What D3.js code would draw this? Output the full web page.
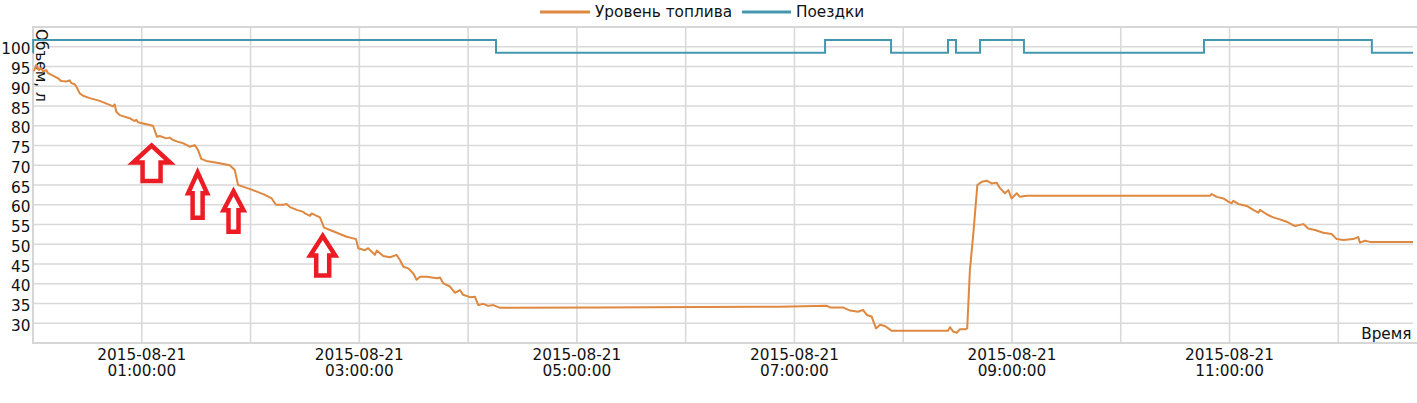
<!DOCTYPE html>
<html><head><meta charset="utf-8">
<script src="https://cdn.jsdelivr.net/npm/d3@7"></script>
<style>
body{margin:0;background:#fff;}
svg text{font-family:"DejaVu Sans",sans-serif;fill:#111;}
</style>
</head><body>
<svg id="c" width="1417" height="403"></svg>
<script>
// ---- data (minutes after 2015-08-21 00:00:00) ----
const fuelMinutes = [0.5,1.8,3.3,4.6,5.5,7.3,8.3,11.0,13.8,15.6,18.4,20.2,21.1,23.0,23.9,25.8,27.6,31.3,36.8,42.3,44.1,45.1,45.9,47.8,53.3,56.1,57.0,57.9,62.5,66.2,67.1,68.4,69.9,73.5,75.4,77.2,80.9,82.7,86.4,89.2,91.0,92.8,95.6,103.0,108.5,111.3,113.1,115.8,121.3,127.0,131.7,134.0,138.1,139.9,141.8,145.5,149.1,150.0,152.8,153.7,156.5,158.3,160.5,163.8,169.3,173.0,178.2,179.4,183.1,184.9,188.6,189.6,193.2,196.9,200.6,202.4,204.3,207.0,209.8,211.6,213.5,217.2,222.7,224.5,226.3,230.0,232.8,235.5,237.3,241.0,243.8,245.6,248.4,251.1,253.9,257.6,312.8,367.9,412.0,437.9,439.6,446.8,450.7,455.1,457.8,459.9,462.6,465.0,467.2,469.9,471.8,473.6,504.7,505.8,507.6,509.5,511.3,514.5,515.3,516.8,518.7,520.9,523.3,526.0,528.8,531.5,533.4,536.1,538.0,539.8,542.6,544.4,548.1,649.2,650.2,652.9,656.6,659.3,661.2,662.1,664.8,669.5,673.1,675.9,676.8,680.5,684.1,687.8,691.5,696.1,700.7,703.4,707.1,711.7,716.3,719.1,722.7,728.2,731.0,731.9,734.7,737.5,761.2];
const fuelLevel = [93.8,95.4,94.1,94.6,93.7,94.1,93.3,92.7,92.0,91.3,91.2,91.5,90.8,90.5,89.9,88.2,87.6,87.0,86.3,85.3,84.9,85.4,83.6,82.7,81.9,81.2,81.5,80.9,80.4,80.0,78.9,77.2,77.4,76.8,77.0,76.4,75.8,75.6,74.7,75.1,73.9,71.6,71.1,70.5,70.0,68.8,65.0,64.6,63.7,62.7,61.6,60.0,60.0,60.2,59.4,58.7,58.2,57.8,57.2,57.8,57.2,56.8,54.2,53.6,52.6,51.9,51.3,49.0,48.5,49.0,47.3,48.4,47.0,46.7,47.3,46.0,44.3,43.9,42.6,41.0,41.8,41.8,41.4,41.6,40.1,39.3,37.7,38.4,37.2,36.6,36.7,34.6,34.9,34.4,34.6,33.9,34.0,34.1,34.2,34.4,34.0,34.0,33.2,32.9,33.4,32.1,31.7,28.7,29.6,29.3,28.7,28.1,28.1,29.0,27.9,27.6,28.5,28.5,28.7,43.5,52.8,65.0,65.8,66.1,65.4,65.6,64.2,62.9,63.7,61.6,62.9,62.0,62.3,62.3,62.7,62.0,61.6,60.8,60.4,61.0,60.2,59.7,58.7,58.0,58.7,57.6,56.8,56.3,55.7,54.6,55.1,54.0,53.6,52.9,52.6,51.3,51.1,51.3,51.8,50.4,50.9,50.6,50.6];
const tripMinutes = [0,0.1,255.4,436.9,473.3,504.7,509.1,522.4,546.6,645.9,738.5,761.2];
const tripLevel   = [98.5,101.7,98.5,101.7,98.5,101.7,98.5,101.7,98.5,101.7,98.5,98.5];
const yTicks = [30,35,40,45,50,55,60,65,70,75,80,85,90,95,100];
const xGridHours = [1,2,3,4,5,6,7,8,9,10,11,12];
const xLabelHours = [1,3,5,7,9,11];
const seriesNames = ["Уровень топлива","Поездки"];
const arrowTipMinutes = [65.4, 90.8, 110.6, 159.8];
const arrowTipLevel   = [75.0, 68.2, 63.4, 52.1];

// ---- styles ----
const colors = ["#de8840","#4497ae"];
const arrowShapes = [ // [headLen, headHalf, shaftHalf, totalLen]
  [17,18.5,9,35.5],[21,9.5,5,45.5],[19,10,5,40.5],[19.5,12.5,6.5,39.5]
];
const M = {left:33,right:1413,top:27,bottom:343};

const base = new Date(2015,7,21,0,0,0);
const toDate = m => new Date(base.getTime()+m*60000);

const svg = d3.select("#c");
const x = d3.scaleTime().domain([base, toDate(761.2)]).range([M.left, M.right]);
const y = d3.scaleLinear().domain([25,105]).range([M.bottom, M.top]);

const grid = svg.append("g");
grid.selectAll("line.h").data(yTicks).enter().append("line")
  .attr("x1",M.left).attr("x2",M.right)
  .attr("y1",d=>y(d)).attr("y2",d=>y(d))
  .attr("stroke","#d9d9d9").attr("stroke-width",1.6);
grid.selectAll("line.v").data(xGridHours).enter().append("line")
  .attr("x1",d=>x(toDate(d*60))).attr("x2",d=>x(toDate(d*60)))
  .attr("y1",M.top).attr("y2",M.bottom)
  .attr("stroke","#d9d9d9").attr("stroke-width",1.6);
svg.append("path")
  .attr("d",`M${M.right+4},${M.top}H${M.left}V${M.bottom}H${M.right+4}`)
  .attr("fill","none").attr("stroke","#d6d6d6").attr("stroke-width",2);

svg.selectAll("text.yl").data(yTicks).enter().append("text")
  .attr("x",30.5).attr("y",d=>y(d)+7.5)
  .attr("text-anchor","end").attr("font-size",15.3).text(d=>d);

const fmtD = d3.timeFormat("%Y-%m-%d"), fmtT = d3.timeFormat("%H:%M:%S");
const xl = svg.selectAll("g.xl").data(xLabelHours).enter().append("g");
xl.append("text").attr("x",d=>x(toDate(d*60))).attr("y",359.5)
  .attr("text-anchor","middle").attr("font-size",15.3).text(d=>fmtD(toDate(d*60)));
xl.append("text").attr("x",d=>x(toDate(d*60))).attr("y",375.5)
  .attr("text-anchor","middle").attr("font-size",15.3).text(d=>fmtT(toDate(d*60)));

svg.append("text").attr("transform","translate(36,29) rotate(90)")
  .attr("font-size",15.3).text("Объем, л");
svg.append("text").attr("x",1411.5).attr("y",339)
  .attr("text-anchor","end").attr("font-size",15.3).text("Время");

const fuel = fuelMinutes.map((m,i)=>[toDate(m), fuelLevel[i]]);
const trips = tripMinutes.map((m,i)=>[toDate(m), tripLevel[i]]);
svg.append("path").datum(trips)
  .attr("d", d3.line().x(d=>x(d[0])).y(d=>y(d[1])).curve(d3.curveStepAfter))
  .attr("fill","none").attr("stroke",colors[1]).attr("stroke-width",2);
svg.append("path").datum(fuel)
  .attr("d", d3.line().x(d=>x(d[0])).y(d=>y(d[1])))
  .attr("fill","none").attr("stroke",colors[0]).attr("stroke-width",2)
  .attr("stroke-linejoin","round");

arrowTipMinutes.forEach((m,i)=>{
  const tx = x(toDate(m)), ty = y(arrowTipLevel[i]);
  const [hl,hh,sh,tl] = arrowShapes[i];
  const p = d3.path();
  p.moveTo(tx,ty); p.lineTo(tx+hh,ty+hl); p.lineTo(tx+sh,ty+hl);
  p.lineTo(tx+sh,ty+tl); p.lineTo(tx-sh,ty+tl); p.lineTo(tx-sh,ty+hl);
  p.lineTo(tx-hh,ty+hl); p.closePath();
  svg.append("path").attr("d",p.toString()).attr("fill","#fff")
    .attr("stroke","#ec1c24").attr("stroke-width",4.5).attr("stroke-linejoin","miter");
});

const lg = [[540,590,595],[742,791,796]];
seriesNames.forEach((n,i)=>{
  svg.append("line").attr("x1",lg[i][0]).attr("x2",lg[i][1]).attr("y1",12).attr("y2",12)
    .attr("stroke",colors[i]).attr("stroke-width",3);
  svg.append("text").attr("x",lg[i][2]).attr("y",17.3).attr("font-size",15.3).text(n);
});
</script>
</body></html>
